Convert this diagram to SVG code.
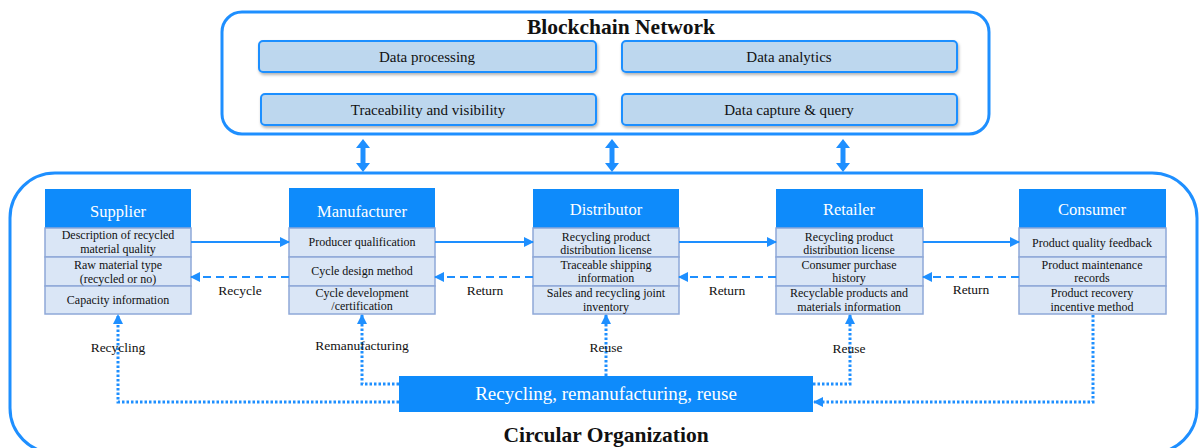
<svg xmlns="http://www.w3.org/2000/svg" width="1200" height="448" viewBox="0 0 1200 448">
<style>
text{font-family:"Liberation Serif","Times New Roman",serif;fill:#111}
.ttl{font-size:21.5px;font-weight:bold;text-anchor:middle}
.bc{fill:#BDD7EE;stroke:#1E8FFF;stroke-width:2}
.bct{font-size:15px;text-anchor:middle}
.hd{fill:#0E8BFB}
.hdt{font-size:16.5px;fill:#fff;text-anchor:middle}
.row{fill:#DAE6F6;stroke:#8EA8D8;stroke-width:1.5}
.rt{font-size:12px;text-anchor:middle}
.lbl{font-size:13.5px;text-anchor:middle}
.sol{stroke:#1E8FFF;stroke-width:2;fill:none;marker-end:url(#ah)}
.dsh{stroke:#1E8FFF;stroke-width:2;fill:none;stroke-dasharray:8 5;marker-end:url(#ah)}
.dot{stroke:#1E8FFF;stroke-width:3;fill:none;stroke-dasharray:2.5 2;marker-end:url(#ah2)}
.dbl{fill:#1E8FFF}
</style>
<defs>
<marker id="ah" markerWidth="10" markerHeight="10" refX="9" refY="5" orient="auto" markerUnits="userSpaceOnUse"><path d="M0,0 L10,5 L0,10 z" fill="#1E8FFF"/></marker>
<marker id="ah2" markerWidth="10" markerHeight="10" refX="9" refY="5" orient="auto" markerUnits="userSpaceOnUse"><path d="M0,0 L10,5 L0,10 z" fill="#1E8FFF"/></marker>
<filter id="sh" x="-5%" y="-20%" width="110%" height="150%"><feDropShadow dx="1" dy="2" stdDeviation="1.5" flood-color="#000" flood-opacity="0.3"/></filter>
</defs>

<g id="blockchain">
<rect x="222" y="12" width="767" height="122" rx="20" fill="#fff" stroke="#1E8FFF" stroke-width="3"/>
<text class="ttl" x="621" y="34">Blockchain Network</text>
</g>
<g id="bc-processing"><rect class="bc" x="259" y="41" width="337" height="31" rx="4" filter="url(#sh)"/><text class="bct" x="427" y="62">Data processing</text></g>
<g id="bc-analytics"><rect class="bc" x="622" y="41" width="335" height="31" rx="4" filter="url(#sh)"/><text class="bct" x="789" y="62">Data analytics</text></g>
<g id="bc-trace"><rect class="bc" x="261" y="94" width="335" height="31" rx="4" filter="url(#sh)"/><text class="bct" x="428" y="115">Traceability and visibility</text></g>
<g id="bc-capture"><rect class="bc" x="622" y="94" width="335" height="31" rx="4" filter="url(#sh)"/><text class="bct" x="789" y="115">Data capture &amp; query</text></g>

<g id="circular">
<rect x="10" y="173" width="1187" height="280" rx="45" fill="none" stroke="#1E8FFF" stroke-width="3"/>
<text class="ttl" x="606" y="442">Circular Organization</text>
</g>

<g id="supplier">
<rect class="hd" x="45" y="189" width="146" height="39"/>
<text class="hdt" x="118" y="217">Supplier</text>
<rect class="row" x="45" y="228" width="146" height="29"/>
<rect class="row" x="45" y="257" width="146" height="29"/>
<rect class="row" x="45" y="286" width="146" height="28"/>
<text class="rt" x="118" y="239">Description of recycled</text>
<text class="rt" x="118" y="253">material quality</text>
<text class="rt" x="118" y="269">Raw material type</text>
<text class="rt" x="118" y="283">(recycled or no)</text>
<text class="rt" x="118" y="304">Capacity information</text>
</g>

<g id="manufacturer">
<rect class="hd" x="289" y="188" width="146" height="40"/>
<text class="hdt" x="362" y="217">Manufacturer</text>
<rect class="row" x="289" y="228" width="146" height="29"/>
<rect class="row" x="289" y="257" width="146" height="29"/>
<rect class="row" x="289" y="286" width="146" height="28"/>
<text class="rt" x="362" y="246">Producer qualification</text>
<text class="rt" x="362" y="275">Cycle design method</text>
<text class="rt" x="362" y="297">Cycle development</text>
<text class="rt" x="362" y="310">/certification</text>
</g>

<g id="distributor">
<rect class="hd" x="533" y="189" width="146" height="39"/>
<text class="hdt" x="606" y="215">Distributor</text>
<rect class="row" x="533" y="228" width="146" height="29"/>
<rect class="row" x="533" y="257" width="146" height="29"/>
<rect class="row" x="533" y="286" width="146" height="28"/>
<text class="rt" x="606" y="241">Recycling product</text>
<text class="rt" x="606" y="254">distribution license</text>
<text class="rt" x="606" y="269">Traceable shipping</text>
<text class="rt" x="606" y="282">information</text>
<text class="rt" x="606" y="297">Sales and recycling joint</text>
<text class="rt" x="606" y="311">inventory</text>
</g>

<g id="retailer">
<rect class="hd" x="776" y="189" width="147" height="39"/>
<text class="hdt" x="849" y="215">Retailer</text>
<rect class="row" x="776" y="228" width="147" height="29"/>
<rect class="row" x="776" y="257" width="147" height="29"/>
<rect class="row" x="776" y="286" width="147" height="28"/>
<text class="rt" x="849" y="241">Recycling product</text>
<text class="rt" x="849" y="254">distribution license</text>
<text class="rt" x="849" y="269">Consumer purchase</text>
<text class="rt" x="849" y="282">history</text>
<text class="rt" x="849" y="297">Recyclable products and</text>
<text class="rt" x="849" y="311">materials information</text>
</g>

<g id="consumer">
<rect class="hd" x="1019" y="189" width="147" height="39"/>
<text class="hdt" x="1092" y="215">Consumer</text>
<rect class="row" x="1019" y="228" width="147" height="29"/>
<rect class="row" x="1019" y="257" width="147" height="29"/>
<rect class="row" x="1019" y="286" width="147" height="28"/>
<text class="rt" x="1092" y="247">Product quality feedback</text>
<text class="rt" x="1092" y="269">Product maintenance</text>
<text class="rt" x="1092" y="282">records</text>
<text class="rt" x="1092" y="297">Product recovery</text>
<text class="rt" x="1092" y="311">incentive method</text>
</g>

<g id="hub">
<rect x="399" y="376" width="414" height="36" fill="#0E8BFB"/>
<text x="606" y="400" style="font-size:19px;fill:#fff;text-anchor:middle">Recycling, remanufacturing, reuse</text>
</g>

<g id="connectors">
<path class="dbl" d="M363,139 L370,148 L365.5,148 L365.5,163 L370,163 L363,172 L356,163 L360.5,163 L360.5,148 L356,148 Z"/>
<path class="dbl" d="M612,139 L619,148 L614.5,148 L614.5,163 L619,163 L612,172 L605,163 L609.5,163 L609.5,148 L605,148 Z"/>
<path class="dbl" d="M843,139 L850,148 L845.5,148 L845.5,163 L850,163 L843,172 L836,163 L840.5,163 L840.5,148 L836,148 Z"/>

<line class="sol" x1="191" y1="242" x2="289" y2="242"/>
<line class="sol" x1="435" y1="242" x2="533" y2="242"/>
<line class="sol" x1="679" y1="242" x2="776" y2="242"/>
<line class="sol" x1="923" y1="242" x2="1019" y2="242"/>

<line class="dsh" x1="289" y1="277" x2="191" y2="277"/>
<line class="dsh" x1="533" y1="277" x2="435" y2="277"/>
<line class="dsh" x1="776" y1="277" x2="679" y2="277"/>
<line class="dsh" x1="1019" y1="277" x2="923" y2="277"/>
<text class="lbl" x="240" y="295">Recycle</text>
<text class="lbl" x="485" y="295">Return</text>
<text class="lbl" x="727" y="295">Return</text>
<text class="lbl" x="971" y="294">Return</text>

<path class="dot" d="M399,402 L118,402 L118,315"/>
<path class="dot" d="M399,384 L362,384 L362,315"/>
<path class="dot" d="M606,376 L606,315"/>
<path class="dot" d="M813,384 L850,384 L850,315"/>
<path class="dot" d="M1093,315 L1093,402 L814,402"/>
<text class="lbl" x="118" y="352">Recycling</text>
<text class="lbl" x="362" y="350">Remanufacturing</text>
<text class="lbl" x="606" y="352">Reuse</text>
<text class="lbl" x="849" y="353">Reuse</text>
</g>
</svg>
